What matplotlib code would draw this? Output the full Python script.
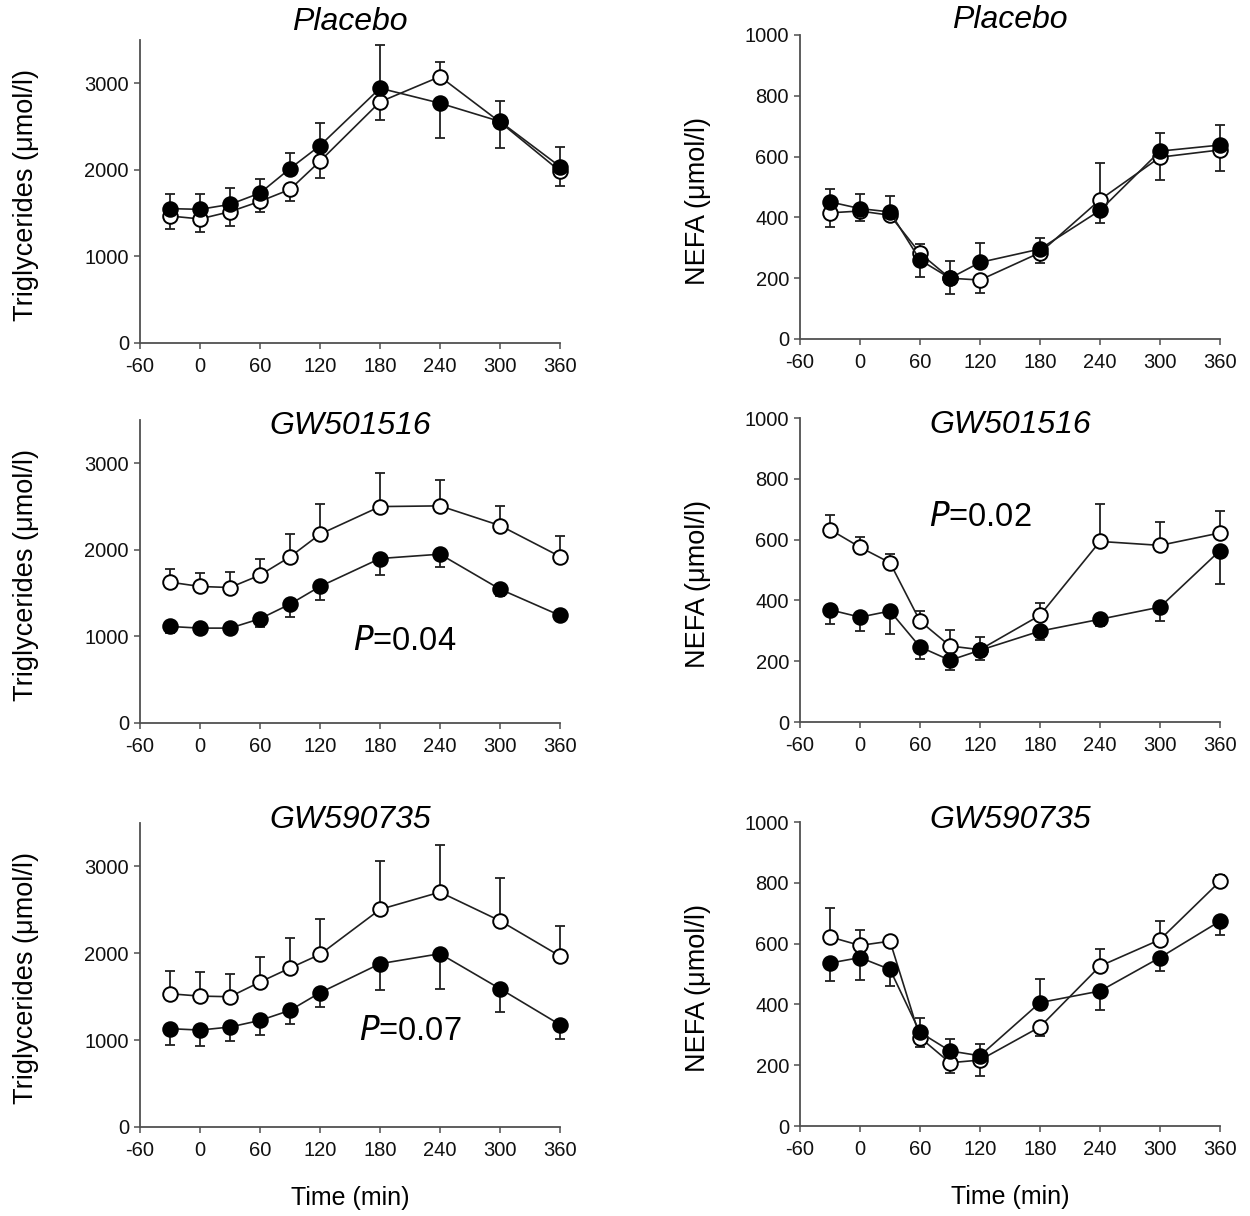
import matplotlib
matplotlib.use('Agg')
import matplotlib.pyplot as plt
import numpy as np

plt.rcParams['font.family'] = ['Liberation Sans', 'DejaVu Sans']
plt.rcParams['axes.unicode_minus'] = False

# Sampling times (min)
time = [-30, 0, 30, 60, 90, 120, 180, 240, 300, 360]
xticks = [-60, 0, 60, 120, 180, 240, 300, 360]

# Triglycerides - Placebo
tg_pla_filled = [1552, 1544, 1601, 1732, 2015, 2280, 2943, 2770, 2559, 2038]
tg_pla_filled_up = [170, 180, 190, 165, 185, 260, 500, 0, 240, 230]
tg_pla_filled_lo = [0, 0, 0, 0, 0, 0, 0, 400, 0, 0]
tg_pla_open = [1467, 1433, 1517, 1636, 1774, 2100, 2785, 3077, 2552, 1985]
tg_pla_open_up = [0, 0, 0, 0, 0, 0, 0, 172, 0, 0]
tg_pla_open_lo = [150, 150, 165, 120, 130, 190, 210, 0, 300, 177]

# NEFA - Placebo
nefa_pla_filled = [451, 429, 418, 260, 200, 252, 296, 423, 618, 638]
nefa_pla_filled_up = [43, 47, 52, 0, 58, 64, 37, 0, 60, 66]
nefa_pla_filled_lo = [0, 0, 0, 57, 0, 0, 0, 41, 0, 0]
nefa_pla_open = [415, 421, 407, 282, 200, 194, 284, 458, 598, 622]
nefa_pla_open_up = [0, 0, 0, 32, 0, 0, 0, 120, 0, 0]
nefa_pla_open_lo = [46, 32, 12, 0, 52, 43, 35, 0, 76, 70]

# Triglycerides - GW501516
tg_501_open = [1627, 1577, 1565, 1708, 1919, 2181, 2500, 2508, 2281, 1923]
tg_501_open_up = [150, 154, 181, 188, 269, 346, 392, 296, 227, 239]
tg_501_filled = [1115, 1096, 1096, 1204, 1373, 1577, 1900, 1950, 1546, 1242]
tg_501_filled_lo = [77, 65, 60, 96, 150, 154, 196, 146, 77, 30]

# NEFA - GW501516
nefa_501_open = [633, 575, 524, 332, 250, 238, 351, 594, 581, 622]
nefa_501_open_up = [49, 33, 27, 33, 51, 41, 40, 122, 77, 72]
nefa_501_filled = [369, 345, 365, 247, 203, 236, 299, 338, 378, 564]
nefa_501_filled_lo = [48, 47, 75, 39, 31, 31, 28, 22, 46, 109]

# Triglycerides - GW590735
tg_735_open = [1534, 1507, 1500, 1669, 1830, 1987, 2505, 2704, 2374, 1968]
tg_735_open_up = [261, 273, 257, 287, 349, 410, 556, 537, 491, 341]
tg_735_filled = [1132, 1116, 1151, 1227, 1343, 1546, 1880, 1995, 1592, 1178]
tg_735_filled_lo = [192, 188, 161, 165, 162, 165, 300, 411, 272, 169]

# NEFA - GW590735
nefa_735_open = [622, 594, 608, 291, 208, 217, 326, 526, 613, 805]
nefa_735_open_up = [95, 52, 13, 0, 0, 0, 0, 55, 61, 22]
nefa_735_open_lo = [0, 0, 0, 31, 35, 53, 31, 0, 0, 0]
nefa_735_filled = [536, 554, 515, 308, 247, 231, 406, 444, 554, 674]
nefa_735_filled_up = [0, 0, 0, 48, 40, 40, 77, 0, 0, 0]
nefa_735_filled_lo = [59, 75, 54, 0, 0, 0, 0, 63, 45, 45]

zeros = [0] * len(time)

panels = [
    # (row, col, title, open, open_lo, open_up, filled, filled_lo, filled_up, p-text)
    (0, 0, 'Placebo', tg_pla_open, tg_pla_open_lo, tg_pla_open_up,
     tg_pla_filled, tg_pla_filled_lo, tg_pla_filled_up, None),
    (0, 1, 'Placebo', nefa_pla_open, nefa_pla_open_lo, nefa_pla_open_up,
     nefa_pla_filled, nefa_pla_filled_lo, nefa_pla_filled_up, None),
    (1, 0, 'GW501516', tg_501_open, zeros, tg_501_open_up,
     tg_501_filled, tg_501_filled_lo, zeros, '0.04'),
    (1, 1, 'GW501516', nefa_501_open, zeros, nefa_501_open_up,
     nefa_501_filled, nefa_501_filled_lo, zeros, '0.02'),
    (2, 0, 'GW590735', tg_735_open, zeros, tg_735_open_up,
     tg_735_filled, tg_735_filled_lo, zeros, '0.07'),
    (2, 1, 'GW590735', nefa_735_open, nefa_735_open_lo, nefa_735_open_up,
     nefa_735_filled, nefa_735_filled_lo, nefa_735_filled_up, None),
]

W, H = 1250, 1216
fig = plt.figure(figsize=(W / 100, H / 100), dpi=100)

# axes boxes in pixels: left, top, right, bottom
boxes = {
    (0, 0): (140, 40, 560, 343), (0, 1): (800, 35, 1220, 339),
    (1, 0): (140, 420, 560, 723), (1, 1): (800, 418, 1220, 722),
    (2, 0): (140, 823, 560, 1127), (2, 1): (800, 822, 1220, 1126),
}
title_y = {(0, 0): 1.06, (0, 1): 1.05, (1, 0): 0.98, (1, 1): 0.977,
           (2, 0): 1.01, (2, 1): 1.007}
p_pos = {(1, 0): (405, 641), (1, 1): (980, 518), (2, 0): (410, 1032)}

axcol = '#505050'
for (r, c, title, o, o_lo, o_up, f, f_lo, f_up, ptxt) in panels:
    l, t, rr, b = boxes[(r, c)]
    ax = fig.add_axes([l / W, 1 - b / H, (rr - l) / W, (b - t) / H])

    for y, lo, up in [(o, o_lo, o_up), (f, f_lo, f_up)]:
        eb = ax.errorbar(time, y, yerr=[lo, up], fmt='none', ecolor='#202020',
                         elinewidth=1.3, capsize=3.5, capthick=1.3, zorder=2)
        for art in eb.lines[1] + eb.lines[2]:
            art.set_clip_on(False)
    ax.plot(time, o, '-o', color='#202020', lw=1.2, ms=10.5, mfc='white',
            mec='black', mew=1.4, zorder=3, clip_on=False)
    ax.plot(time, f, '-o', color='#202020', lw=1.2, ms=10.5, mfc='black',
            mec='black', mew=1.4, zorder=4, clip_on=False)

    ax.set_xlim(-60, 360)
    ax.set_xticks(xticks)
    if c == 0:
        ax.set_ylim(0, 3500)
        ax.set_yticks([0, 1000, 2000, 3000])
        ax.set_ylabel('Triglycerides (μmol/l)', fontsize=19.5)
        ax.yaxis.set_label_coords(-0.24, 0.49)
    else:
        ax.set_ylim(0, 1000)
        ax.set_yticks([0, 200, 400, 600, 800, 1000])
        ax.set_ylabel('NEFA (μmol/l)', fontsize=19.5)
        ax.yaxis.set_label_coords(-0.212, 0.455)

    for s in ['top', 'right']:
        ax.spines[s].set_visible(False)
    for s in ['left', 'bottom']:
        ax.spines[s].set_color(axcol)
        ax.spines[s].set_linewidth(1.3)
    ax.tick_params(direction='out', length=4, width=1.1, color=axcol,
                   labelsize=14.5, pad=4, labelcolor='#111111')
    ax.tick_params(axis='x', pad=6)

    ax.text(0.5, title_y[(r, c)], title, transform=ax.transAxes, ha='center',
            va='center', fontsize=23, style='italic')

    if ptxt is not None:
        px, py = p_pos[(r, c)]
        fig.text(px / W, 1 - py / H, r'$\it{P}$' + '=' + ptxt, ha='center',
                 va='center', fontsize=23.5)

    if r == 2:
        ax.set_xlabel('Time (min)', fontsize=18)
        ax.xaxis.set_label_coords(0.5, -0.195)

fig.savefig('out.png', dpi=100)
